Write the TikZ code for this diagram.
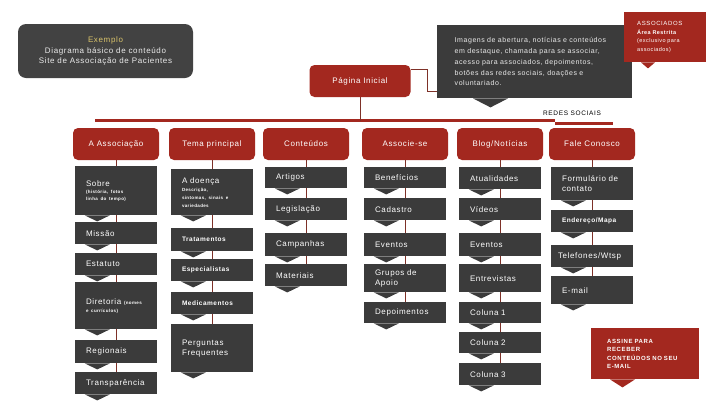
\documentclass[tikz,border=0pt]{standalone}
\usepackage{fontspec}
\setmainfont{Liberation Sans}[LetterSpace=8]
\newfontfamily\capsfont[LetterSpace=10]{Liberation Sans}
\usetikzlibrary{positioning}
\definecolor{boxgray}{HTML}{3B3B3B}
\definecolor{demogray}{HTML}{424242}
\definecolor{assocred}{HTML}{A3281F}
\definecolor{linebrown}{HTML}{7E3128}
\definecolor{gold}{HTML}{D9C36A}
\newcommand{\fs}[2]{\fontsize{#1}{#2}\selectfont}

\begin{document}
\begin{tikzpicture}[x=1pt, y=-1pt,
  hdr/.style={fill=assocred, text=white, rounded corners=5pt, minimum width=86pt, minimum height=32pt, inner sep=0pt, font=\fs{8}{10}},
  item/.style={fill=boxgray, text=white, anchor=north, text width=60pt, inner xsep=11pt, inner ysep=0pt, align=left, font=\fs{8}{10}},
  small/.style={font=\bfseries\fs{6.5}{7}},
  colline/.style={draw=linebrown, line width=0.8pt},
  bus/.style={draw=assocred, line width=3pt}]
\useasboundingbox (0,0) rectangle (720,405);

% top row
\node[fill=demogray, rounded corners=8pt, minimum width=175pt, minimum height=54pt, text=white!92!black, align=center, font=\fs{8}{10.5}] (demo) at (105.5,51)
  {{\color{gold}Exemplo}\\Diagrama básico de conteúdo\\Site de Associação de Pacientes};
\node[hdr, minimum width=101pt] (home) at (360,81) {Página Inicial};
\node[fill=boxgray, text=white!92!black, anchor=north west, text width=160pt, inner xsep=17.5pt, minimum height=73pt, align=left, font=\fs{7}{10.8}] (intro) at (437,25)
  {Imagens de abertura, notícias e conteúdos\\em destaque, chamada para se associar,\\acesso para associados, depoimentos,\\botões das redes sociais, doações e\\voluntariado.};
\node[fill=assocred, text=white, anchor=north west, text width=56pt, inner xsep=13pt, minimum height=50pt, align=left, font=\fs{5.5}{8.5}] (assoc) at (624,12)
  {{\capsfont\fs{6}{8.5}ASSOCIADOS}\\{\bfseries Área Restrita}\\(exclusivo para\\associados)};
\node[font=\capsfont\fs{6.5}{8}] (redes) at (572,113) {REDES SOCIAIS};

\fill[boxgray] ([xshift=36pt]intro.south west) -- ++(17.5,9) -- ++(17.5,-9) -- cycle;
\fill[assocred] ([xshift=17pt]assoc.south west) -- ++(7,6) -- ++(7,-6) -- cycle;

\coordinate (busL) at (95,120.5); \coordinate (busM) at (555,120.5); \coordinate (busR) at (613,123);
\draw[bus] (busL) -- (busM); \draw[bus] (busM |- busR) -- (busR);
\draw[colline] (home) -- (home |- busL);
\draw[colline] ([yshift=-5pt]home.north east) -- ++(17,0) |- ([yshift=7pt]intro.south west);

% section headers
\node[hdr] (h1) at (116,144) {A Associação};
\node[hdr] (h2) at (212,144) {Tema principal};
\node[hdr] (h3) at (306,144) {Conteúdos};
\node[hdr] (h4) at (405,144) {Associe-se};
\node[hdr] (h5) at (500,144) {Blog/Notícias};
\node[hdr] (h6) at (592,144) {Fale Conosco};

% A Associação
\node[item, minimum height=49pt] (sobre) at (116,166) {Sobre\par{\bfseries\fs{4.5}{7}(história, fotos\\linha do tempo)\par}};
\node[item, minimum height=22pt] (missao) at (116,222) {Missão};
\node[item, minimum height=22pt] (estatuto) at (116,253) {Estatuto};
\node[item, minimum height=47pt] (diretoria) at (116,282) {Diretoria {\bfseries\fs{4.5}{8}(nomes\\e currículos)\par}};
\node[item, minimum height=23pt] (regionais) at (116,340) {Regionais};
\node[item, minimum height=22pt] (transp) at (116,372) {Transparência};

% Tema principal
\node[item, minimum height=46pt] (doenca) at (212,169) {A doença\par{\bfseries\fs{4.5}{8}Descrição,\\sintomas, sinais e\\variedades\par}};
\node[item, small, minimum height=23pt] (tratam) at (212,228) {Tratamentos};
\node[item, small, minimum height=22pt] (especial) at (212,259) {Especialistas};
\node[item, small, minimum height=22pt] (medic) at (212,292) {Medicamentos};
\node[item, minimum height=48pt] (faq) at (212,324) {Perguntas\\Frequentes};

% Conteúdos
\node[item, minimum height=21pt] (artigos) at (306,167) {Artigos};
\node[item, minimum height=22pt] (legis) at (306,198) {Legislação};
\node[item, minimum height=23pt] (campanhas) at (306,233) {Campanhas};
\node[item, minimum height=22pt] (materiais) at (306,264) {Materiais};

% Associe-se
\node[item, minimum height=21pt] (benef) at (405,167) {Benefícios};
\node[item, minimum height=22pt] (cadastro) at (405,198) {Cadastro};
\node[item, minimum height=23pt] (eventosA) at (405,233) {Eventos};
\node[item, minimum height=28pt] (grupos) at (405,264) {Grupos de\\Apoio};
\node[item, minimum height=21pt] (depoim) at (405,302) {Depoimentos};

% Blog/Notícias
\node[item, minimum height=22pt] (atual) at (500,167) {Atualidades};
\node[item, minimum height=22pt] (videos) at (500,198) {Vídeos};
\node[item, minimum height=23pt] (eventosB) at (500,233) {Eventos};
\node[item, minimum height=28pt] (entrev) at (500,264) {Entrevistas\\[4pt]};
\node[item, minimum height=21pt] (coluna1) at (500,302) {Coluna 1};
\node[item, minimum height=21pt] (coluna2) at (500,332) {Coluna 2};
\node[item, minimum height=22pt] (coluna3) at (500,363) {Coluna 3};

% Fale Conosco
\node[item, minimum height=33pt] (form) at (592,167) {Formulário de\\contato};
\node[item, small, minimum height=22pt] (endereco) at (592,210) {Endereço/Mapa};
\node[item, minimum height=22pt, inner xsep=7pt, text width=68pt] (fones) at (592,245) {Telefones/Wtsp};
\node[item, minimum height=28pt] (email) at (592,276) {E-mail};

\node[fill=assocred, text=white, anchor=north west, text width=76pt, inner xsep=16pt, minimum height=51pt, align=left, font=\capsfont\bfseries\fs{6}{8.5}] (assine) at (591,328)
  {ASSINE PARA\\RECEBER\\CONTEÚDOS NO SEU\\E-MAIL};
\fill[assocred] ([xshift=19pt]assine.south west) -- ++(12.5,8) -- ++(12.5,-8) -- cycle;

% column links
\draw[colline] (h1) -- (sobre) -- (missao) -- (estatuto) -- (diretoria) -- (regionais) -- (transp);
\draw[colline] (h2) -- (doenca) -- (tratam) -- (especial) -- (medic) -- (faq);
\draw[colline] (h3) -- (artigos) -- (legis) -- (campanhas) -- (materiais);
\draw[colline] (h4) -- (benef) -- (cadastro) -- (eventosA) -- (grupos) -- (depoim);
\draw[colline] (h5) -- (atual) -- (videos) -- (eventosB) -- (entrev) -- (coluna1) -- (coluna2) -- (coluna3);
\draw[colline] (h6) -- (form) -- (endereco) -- (fones) -- (email);

\foreach \n in {sobre,missao,estatuto,diretoria,regionais,transp,doenca,tratam,especial,medic,faq,artigos,legis,campanhas,materiais,benef,cadastro,eventosA,grupos,depoim,atual,videos,eventosB,entrev,coluna1,coluna2,coluna3,form,endereco,fones,email}
  \fill[boxgray] ([xshift=10pt]\n.south west) -- ++(12.5,6) -- ++(12.5,-6) -- cycle;
\end{tikzpicture}
\end{document}
